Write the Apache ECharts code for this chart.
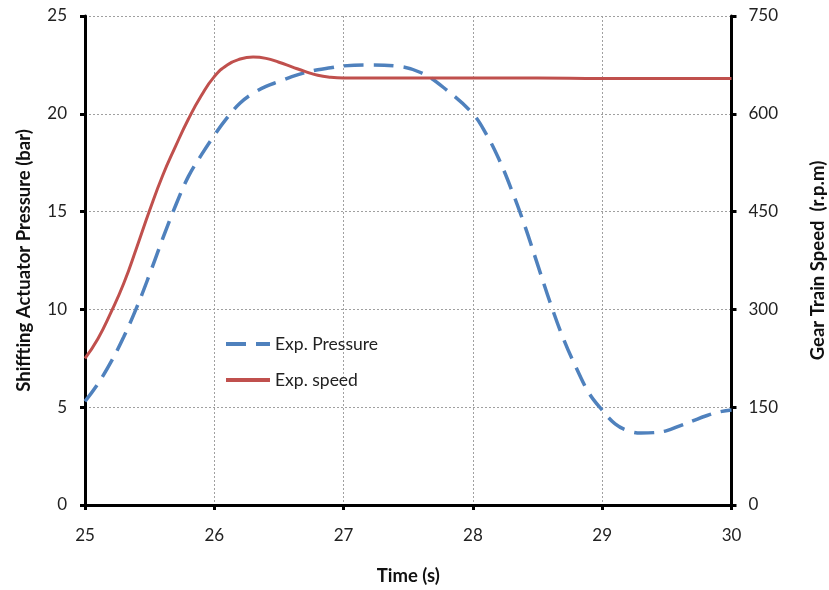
<!DOCTYPE html>
<html>
<head>
<meta charset="utf-8">
<script src="https://cdn.jsdelivr.net/npm/echarts@6/dist/echarts.min.js"></script>
<style>
  html, body { margin: 0; padding: 0; background: #fff; }
  #chart { width: 829px; height: 590px; }
</style>
</head>
<body>
<div id="chart"></div>
<script>
const pressureTime = [25.0, 25.1, 25.2, 25.3, 25.4, 25.5, 25.6, 25.7, 25.8, 25.9,
  26.0, 26.1, 26.2, 26.3, 26.4, 26.5, 26.6, 26.7, 26.8, 26.9,
  27.0, 27.2, 27.4, 27.6, 27.8, 28.0, 28.1, 28.2, 28.3, 28.4, 28.5, 28.6, 28.7, 28.8, 28.9,
  29.0, 29.1, 29.2, 29.3, 29.4, 29.5, 29.6, 29.7, 29.8, 29.9, 30.0];
const pressure = [5.3, 6.2, 7.3, 8.6, 10.1, 11.8, 13.6, 15.3, 16.8, 17.9,
  18.9, 19.8, 20.55, 21.05, 21.4, 21.65, 21.9, 22.1, 22.25, 22.35,
  22.45, 22.5, 22.45, 22.1, 21.2, 20.0, 19.0, 17.7, 16.1, 14.3, 12.3, 10.3, 8.5, 7.0, 5.7,
  4.85, 4.15, 3.8, 3.68, 3.7, 3.8, 4.05, 4.3, 4.55, 4.75, 4.86];

const speedTime = [25.0, 25.1, 25.2, 25.3, 25.4, 25.5, 25.6, 25.7, 25.8, 25.9,
  26.0, 26.1, 26.2, 26.3, 26.4, 26.5, 26.6, 26.7, 26.8, 26.9,
  27.0, 27.5, 28.0, 28.5, 29.0, 29.5, 30.0];
const speed = [225, 255, 295, 340, 395, 452, 505, 550, 592, 628,
  657, 675, 684, 687, 685, 679, 672, 665, 659, 656,
  655, 655, 655, 655, 654, 654, 654];

const font = 'Lato, "Open Sans", sans-serif';
const labelStyle = { color: '#222', fontSize: 17, fontFamily: font };
const nameStyle = { color: '#111', fontSize: 18.5, fontWeight: 'bold', fontFamily: font };
const axisLine = { show: true, lineStyle: { color: '#000', width: 3 } };
const axisTick = { show: true, length: 5, lineStyle: { color: '#000', width: 3 } };
const gridLine = { show: true, lineStyle: { color: '#a0a0a0', type: [2, 2], width: 1 } };

const chart = echarts.init(document.getElementById('chart'), null, { renderer: 'canvas' });

chart.setOption({
  animation: false,
  grid: { left: 85, right: 97.5, top: 16, bottom: 85, containLabel: false, outerBoundsMode: 'none' },
  legend: {
    orient: 'vertical',
    left: 219,
    top: 330,
    itemWidth: 44,
    itemHeight: 14,
    itemGap: 18,
    itemStyle: { opacity: 0 },
    lineStyle: { width: 4 },
    textStyle: { color: '#222', fontSize: 17.5, fontFamily: font },
    data: ['Exp. Pressure', 'Exp. speed']
  },
  xAxis: {
    type: 'value',
    min: 25, max: 30, interval: 1,
    name: 'Time (s)',
    nameLocation: 'middle',
    nameGap: 62,
    nameTextStyle: nameStyle,
    axisLine: axisLine,
    axisTick: axisTick,
    axisLabel: Object.assign({ margin: 22 }, labelStyle),
    splitLine: gridLine
  },
  yAxis: [
    {
      type: 'value',
      min: 0, max: 25, interval: 5,
      name: 'Shiffting Actuator Pressure (bar)',
      nameLocation: 'middle',
      nameGap: 51,
      nameTextStyle: nameStyle,
      axisLine: axisLine,
      axisTick: axisTick,
      axisLabel: Object.assign({ margin: 18 }, labelStyle),
      splitLine: gridLine
    },
    {
      type: 'value',
      min: 0, max: 750, interval: 150,
      position: 'right',
      name: 'Gear Train Speed  (r.p.m)',
      nameLocation: 'middle',
      nameGap: 77,
      nameTextStyle: nameStyle,
      axisLine: axisLine,
      axisTick: axisTick,
      axisLabel: Object.assign({ margin: 17 }, labelStyle),
      splitLine: { show: false }
    }
  ],
  series: [
    {
      name: 'Exp. Pressure',
      type: 'line',
      yAxisIndex: 0,
      smooth: 0.4,
      showSymbol: false,
      symbol: 'none',
      color: '#4f81bd',
      lineStyle: { color: '#4f81bd', width: 3.5, type: [20, 10] },
      data: pressureTime.map((t, i) => [t, pressure[i]]),
      z: 3
    },
    {
      name: 'Exp. speed',
      type: 'line',
      yAxisIndex: 1,
      smooth: 0.5,
      showSymbol: false,
      symbol: 'none',
      color: '#c0504d',
      lineStyle: { color: '#c0504d', width: 3 },
      data: speedTime.map((t, i) => [t, speed[i]]),
      z: 4
    }
  ]
});
</script>
</body>
</html>
